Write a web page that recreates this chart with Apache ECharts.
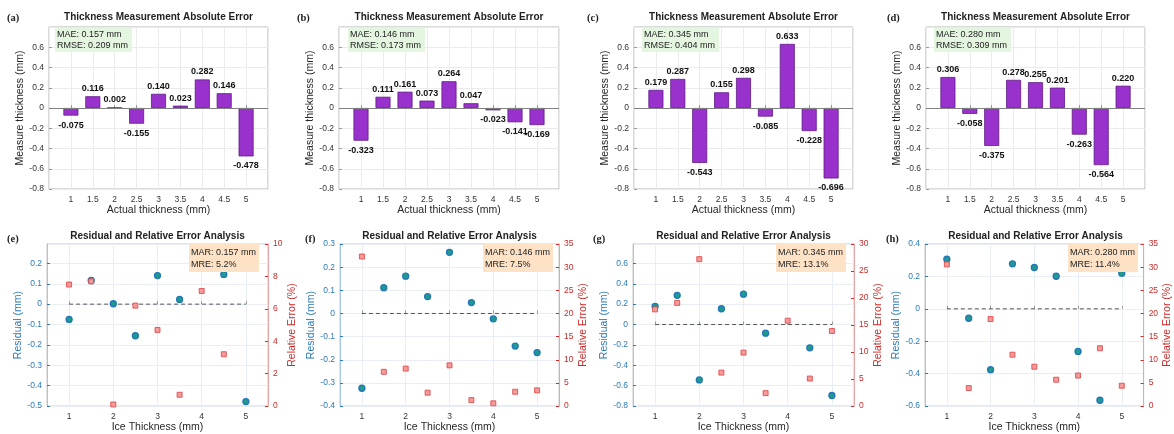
<!DOCTYPE html>
<html>
<head>
<meta charset="utf-8">
<script src="https://cdn.jsdelivr.net/npm/echarts@6/dist/echarts.min.js"></script>
<style>
  html, body { margin: 0; padding: 0; background: #fff; }
  #main { width: 1174px; height: 434px; }
</style>
</head>
<body>
<div id="main"></div>
<script>
// actual ice thickness (mm)
var thickness = [1, 1.5, 2, 2.5, 3, 3.5, 4, 4.5, 5];

// absolute error per panel (mm)
var errA = [-0.075, 0.116, 0.002, -0.155, 0.140, 0.023, 0.282, 0.146, -0.478];
var errB = [-0.323, 0.111, 0.161, 0.073, 0.264, 0.047, -0.023, -0.141, -0.169];
var errC = [0.179, 0.287, -0.543, 0.155, 0.298, -0.085, 0.633, -0.228, -0.696];
var errD = [0.306, -0.058, -0.375, 0.278, 0.255, 0.201, -0.263, -0.564, 0.220];

// relative error per panel (%)
var relE = [7.5, 7.7, 0.1, 6.2, 4.7, 0.7, 7.1, 3.2, 9.6];
var relF = [32.3, 7.4, 8.1, 2.9, 8.8, 1.3, 0.6, 3.1, 3.4];
var relG = [17.9, 19.1, 27.2, 6.2, 9.9, 2.4, 15.8, 5.1, 13.9];
var relH = [30.6, 3.9, 18.8, 11.1, 8.5, 5.7, 6.6, 12.5, 4.4];

// summary stats
var maeList = ['0.157', '0.146', '0.345', '0.280'];
var rmseList = ['0.209', '0.173', '0.404', '0.309'];
var mreList = ['5.2', '7.5', '13.1', '11.4'];

// axis ranges of the lower row
var resMin = [-0.5, -0.4, -0.8, -0.6];
var resMax = [0.295, 0.3, 0.79, 0.4];
var resStep = [0.1, 0.1, 0.2, 0.2];
var resShowTop = [false, true, false, true];
var relMax = [10, 35, 30, 35];
var relStep = [2, 5, 5, 5];

var topTags = ['(a)', '(b)', '(c)', '(d)'];
var botTags = ['(e)', '(f)', '(g)', '(h)'];

// layout
var topBoxes = [[49, 268], [339, 559], [634, 853], [926, 1145]];
var botBoxes = [[47, 268], [340, 559], [633, 854], [925, 1146]];
var topTagX = [7, 297, 587, 887];
var botTagX = [7, 305, 593, 886];
var greenX = [55, 348, 642, 934];
var orangeX = [189, 483, 776, 1068];

var FONT = 'Liberation Sans, Arial, sans-serif';
var BLUE = '#2b7bba', RED = '#cc2a2a';

var chart = echarts.init(document.getElementById('main'));
var grids = [], xAxes = [], yAxes = [], series = [], graphics = [];
var barErrs = [errA, errB, errC, errD];
var relErrs = [relE, relF, relG, relH];

// upper row: bar charts of absolute error
barErrs.forEach(function (errs, i) {
  var b = topBoxes[i];
  grids.push({left: b[0], width: b[1] - b[0], top: 27, height: 162,
    show: true, borderColor: '#b5b5b5', borderWidth: 1});
  xAxes.push({
    type: 'value', gridIndex: i, min: 0.5, max: 5.5, interval: 0.5,
    name: 'Actual thickness (mm)', nameLocation: 'middle', nameGap: 16,
    nameTextStyle: {fontSize: 10.5, color: '#262626', fontFamily: FONT},
    axisLine: {show: false},
    axisTick: {inside: true, length: 3, lineStyle: {color: '#999'}},
    axisLabel: {showMinLabel: false, showMaxLabel: false, fontSize: 8.5, color: '#333', margin: 6, fontFamily: FONT},
    splitLine: {lineStyle: {color: '#ebebeb'}}
  });
  yAxes.push({
    type: 'value', gridIndex: i, min: -0.8, max: 0.8, interval: 0.2,
    name: 'Measure thickness (mm)', nameLocation: 'middle', nameGap: 20,
    nameTextStyle: {fontSize: 10.5, color: '#262626', fontFamily: FONT},
    axisLine: {show: false},
    axisTick: {inside: true, length: 3, lineStyle: {color: '#999'}},
    axisLabel: {showMaxLabel: false, fontSize: 8.5, color: '#333', margin: 5, fontFamily: FONT},
    splitLine: {lineStyle: {color: '#ebebeb'}}
  });
  series.push({
    type: 'bar', xAxisIndex: i, yAxisIndex: i, barWidth: 15,
    data: thickness.map(function (t, k) {
      return {value: [t, errs[k]], label: {position: errs[k] >= 0 ? 'top' : 'bottom', distance: errs[k] >= 0 ? 3 : 5}};
    }),
    itemStyle: {color: '#9932CC', borderColor: '#5e1a86', borderWidth: 0.8},
    label: {show: true, fontSize: 9, fontWeight: 'bold', color: '#111', fontFamily: FONT,
      formatter: function (p) { return p.value[1].toFixed(3); }},
    markLine: {silent: true, symbol: 'none', data: [{yAxis: 0}], label: {show: false},
      lineStyle: {color: '#808080', width: 1, type: 'solid'}},
    z: 3
  });
  graphics.push({type: 'text', x: topTagX[i], y: 18, style: {text: topTags[i],
    font: 'bold 10.5px Liberation Serif', fill: '#222', verticalAlign: 'middle'}});
  graphics.push({type: 'text', x: (b[0] + b[1]) / 2, y: 17.5, style: {text: 'Thickness Measurement Absolute Error',
    font: 'bold 10px ' + FONT, fill: '#222', align: 'center', verticalAlign: 'middle'}});
  graphics.push({type: 'text', x: greenX[i], y: 28, z: 10, style: {
    text: 'MAE: ' + maeList[i] + ' mm\nRMSE: ' + rmseList[i] + ' mm',
    font: '9px ' + FONT, fill: '#222', lineHeight: 11, backgroundColor: '#e4f6df',
    padding: [1, 4, 1, 2]}});
});

// lower row: residual + relative error scatter
relErrs.forEach(function (rel, j) {
  var gi = 4 + j, b = botBoxes[j], res = barErrs[j];
  grids.push({left: b[0], width: b[1] - b[0], top: 244, height: 164,
    show: true, borderColor: '#c8c8c8', borderWidth: 1});
  xAxes.push({
    type: 'value', gridIndex: gi, min: 0.5, max: 5.5, splitNumber: 5,
    name: 'Ice Thickness (mm)', nameLocation: 'middle', nameGap: 15,
    nameTextStyle: {fontSize: 10.5, color: '#262626', fontFamily: FONT},
    axisLine: {show: false},
    axisTick: {inside: true, length: 3, lineStyle: {color: '#999'}},
    axisLabel: {showMinLabel: false, showMaxLabel: false, fontSize: 8.5, color: '#333', margin: 6, fontFamily: FONT},
    splitLine: {lineStyle: {color: '#e8eef4'}}
  });
  yAxes.push({
    type: 'value', gridIndex: gi, position: 'left', min: resMin[j], max: resMax[j], interval: resStep[j],
    name: 'Residual (mm)', nameLocation: 'middle', nameGap: 16,
    nameTextStyle: {fontSize: 10.5, color: BLUE, fontFamily: FONT},
    axisLine: {show: true, lineStyle: {color: '#a9c6e0'}},
    axisTick: {inside: true, length: 3, lineStyle: {color: BLUE}},
    axisLabel: {showMaxLabel: resShowTop[j], fontSize: 8.5, color: BLUE, margin: 5, fontFamily: FONT},
    splitLine: {lineStyle: {color: '#e8eef4'}}
  });
  yAxes.push({
    type: 'value', gridIndex: gi, position: 'right', min: 0, max: relMax[j], interval: relStep[j],
    name: 'Relative Error (%)', nameLocation: 'middle', nameGap: 14, nameRotate: 90,
    nameTextStyle: {fontSize: 10.5, color: RED, fontFamily: FONT},
    axisLine: {show: true, lineStyle: {color: '#eaa5a5'}},
    axisTick: {inside: true, length: 3, lineStyle: {color: RED}},
    axisLabel: {fontSize: 8.5, color: RED, margin: 5, fontFamily: FONT},
    splitLine: {show: false}
  });
  var yl = 4 + 2 * j, yr = 5 + 2 * j;
  series.push({
    type: 'line', xAxisIndex: gi, yAxisIndex: yl, symbol: 'none', silent: true,
    data: [[thickness[0], 0], [thickness[thickness.length - 1], 0]],
    lineStyle: {color: '#555', width: 1, type: [4, 3]}, z: 2
  });
  series.push({
    type: 'scatter', xAxisIndex: gi, yAxisIndex: yl, symbol: 'circle', symbolSize: 6,
    data: thickness.map(function (t, k) { return [t, res[k]]; }),
    itemStyle: {color: '#1f9a8c', borderColor: '#2277bb', borderWidth: 1.3, opacity: 1}, z: 3
  });
  series.push({
    type: 'scatter', xAxisIndex: gi, yAxisIndex: yr, symbol: 'rect', symbolSize: 5,
    data: thickness.map(function (t, k) { return [t, rel[k]]; }),
    itemStyle: {color: '#f39a9a', borderColor: '#e04040', borderWidth: 0.8, opacity: 1}, z: 4
  });
  graphics.push({type: 'text', x: botTagX[j], y: 239, style: {text: botTags[j],
    font: 'bold 10.5px Liberation Serif', fill: '#222', verticalAlign: 'middle'}});
  graphics.push({type: 'text', x: (b[0] + b[1]) / 2, y: 236.5, style: {text: 'Residual and Relative Error Analysis',
    font: 'bold 10px ' + FONT, fill: '#222', align: 'center', verticalAlign: 'middle'}});
  graphics.push({type: 'text', x: orangeX[j], y: 243, z: 100, zlevel: 1, style: {
    text: 'MAR: ' + maeList[j] + ' mm\nMRE: ' + mreList[j] + '%',
    font: '9px ' + FONT, fill: '#222', lineHeight: 12, backgroundColor: '#fde2c6',
    padding: [4, 3, 1, 2]}});
});

chart.setOption({
  backgroundColor: '#fff',
  animation: false,
  textStyle: {fontFamily: FONT},
  grid: grids,
  xAxis: xAxes,
  yAxis: yAxes,
  series: series,
  graphic: graphics
});
</script>
</body>
</html>
